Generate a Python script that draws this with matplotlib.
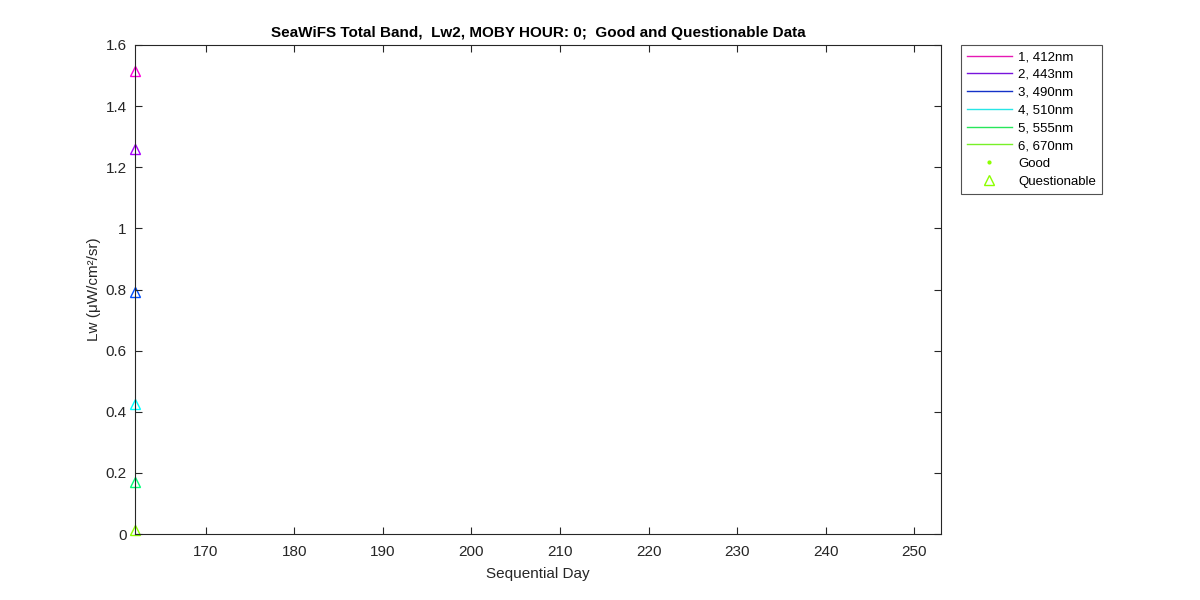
import matplotlib.pyplot as plt

plt.rcParams['font.family'] = ['Liberation Sans', 'DejaVu Sans']

bands = ['1, 412nm', '2, 443nm', '3, 490nm', '4, 510nm', '5, 555nm', '6, 670nm']
line_colors = ['#e619b4', '#7814dc', '#1432c8', '#28e6e6', '#28e65a', '#78f028']
marker_colors = ['#ff00dc', '#aa00ff', '#0050ff', '#00ffff', '#00ff78', '#8cff00']

# questionable data, one day per band
quest_day = [162, 162, 162, 162, 162, 162]
quest_lw = [1.515, 1.26, 0.792, 0.425, 0.17, 0.012]

fig = plt.figure(figsize=(12, 6), dpi=100)
ax = fig.add_axes([0.1125, 0.11, 0.6715, 0.815])

handles = []
for i in range(len(bands)):
    h, = ax.plot([quest_day[i]], [quest_lw[i]], '-', color=line_colors[i], lw=1, label=bands[i])
    handles.append(h)

for i in range(len(bands)):
    ax.plot(quest_day[i], quest_lw[i], '^', mfc='none', mec=marker_colors[i], ms=7, mew=1,
            clip_on=False, zorder=1)

hg, = ax.plot([], [], '.', color='#8cff00', ms=4, label='Good')
hq, = ax.plot([], [], '^', mfc='none', mec='#8cff00', ms=7, label='Questionable')
handles += [hg, hq]

ax.set_xlim(162, 253)
ax.set_ylim(0, 1.6)
ax.set_xticks(range(170, 251, 10))
ax.set_yticks([0, 0.2, 0.4, 0.6, 0.8, 1, 1.2, 1.4, 1.6])
ax.set_yticklabels(['0', '0.2', '0.4', '0.6', '0.8', '1', '1.2', '1.4', '1.6'])
ax.tick_params(direction='in', top=True, right=True, labelsize=11, colors='#262626', length=5)
ax.tick_params(axis='x', pad=8)
ax.tick_params(axis='y', pad=6)
for s in ax.spines.values():
    s.set_color('#262626')
    s.set_linewidth(0.8)

ax.set_xlabel('Sequential Day', fontsize=11, color='#262626', labelpad=6)
ax.set_ylabel('Lw (\u03bcW/cm\u00b2/sr)', fontsize=11, color='#262626', labelpad=3)
ax.set_title('SeaWiFS Total Band,  Lw2, MOBY HOUR: 0;  Good and Questionable Data',
             fontsize=11, fontweight='bold', pad=6)

leg = ax.legend(handles=handles, loc='upper left', bbox_to_anchor=(1.025, 1.0),
                fontsize=9.5, frameon=True, fancybox=False, edgecolor='#262626',
                handlelength=3.4, handletextpad=0.5, labelspacing=0.42,
                borderaxespad=0, borderpad=0.45)
leg.get_frame().set_linewidth(0.8)

fig.savefig('out.png', dpi=100)
